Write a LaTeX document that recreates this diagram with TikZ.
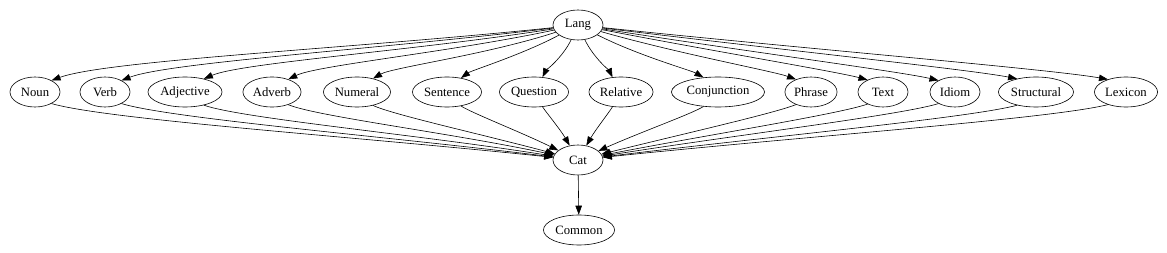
\documentclass[tikz,border=0pt]{standalone}
\usepackage{fontspec}
\setmainfont{Liberation Serif}
\usetikzlibrary{shapes.geometric,arrows.meta}
\begin{document}
\begin{tikzpicture}[x=1pt,y=1pt,>={Triangle[length=9pt,width=6.5pt]},line width=0.6pt,
  word/.style={draw,ellipse,minimum width=50pt,minimum height=30pt,inner xsep=1.5pt,inner ysep=0pt,font=\fontsize{12.7}{14}\selectfont}]
  \useasboundingbox (0,0) rectangle (1167,252);
  \node[word] (lang) at (578,227) {Lang};
  \node[word] (cat) at (578,92) {Cat};
  \node[word] (common) at (579,22) {Common};
  % name/x/text, top anchor/out/in from Lang, bottom anchor/out/in to Cat
  \foreach \name/\x/\txt/\ta/\oa/\ia/\ba/\ob/\ib in {
      noun/35/Noun/35/186/20/-35/-16/174,
      verb/105/Verb/35/187/21/-35/-17/173,
      adjective/185/Adjective/35/189/23/-35/-19/171,
      adverb/272/Adverb/38/192/26/-38/-22/168,
      numeral/357/Numeral/40/198/30/-40/-25/165,
      sentence/447/Sentence/45/208/36/-45/-33/154,
      question/534/Question/60/245/65/-60/-58/120,
      relative/621/Relative/120/-65/115/240/240/60,
      conjunction/718/Conjunction/135/-27/150/225/212/24,
      phrase/811/Phrase/140/-16/160/220/202/14,
      text/883/Text/142/-11/165/218/199/11,
      idiom/955/Idiom/145/-9/167/215/197/9,
      structural/1036/Structural/145/-7/169/215/195/7,
      lexicon/1126/Lexicon/145/-6/170/215/194/6}{
    \node[word] (\name) at (\x,160) {\txt};
    \draw[->] (lang) to[out=\oa,in=\ia,in looseness=0.3] (\name.\ta);
    \draw[->] (\name.\ba) to[out=\ob,in=\ib,out looseness=0.3] (cat);
  }
  \draw[->] (cat) -- (common);
\end{tikzpicture}
\end{document}
